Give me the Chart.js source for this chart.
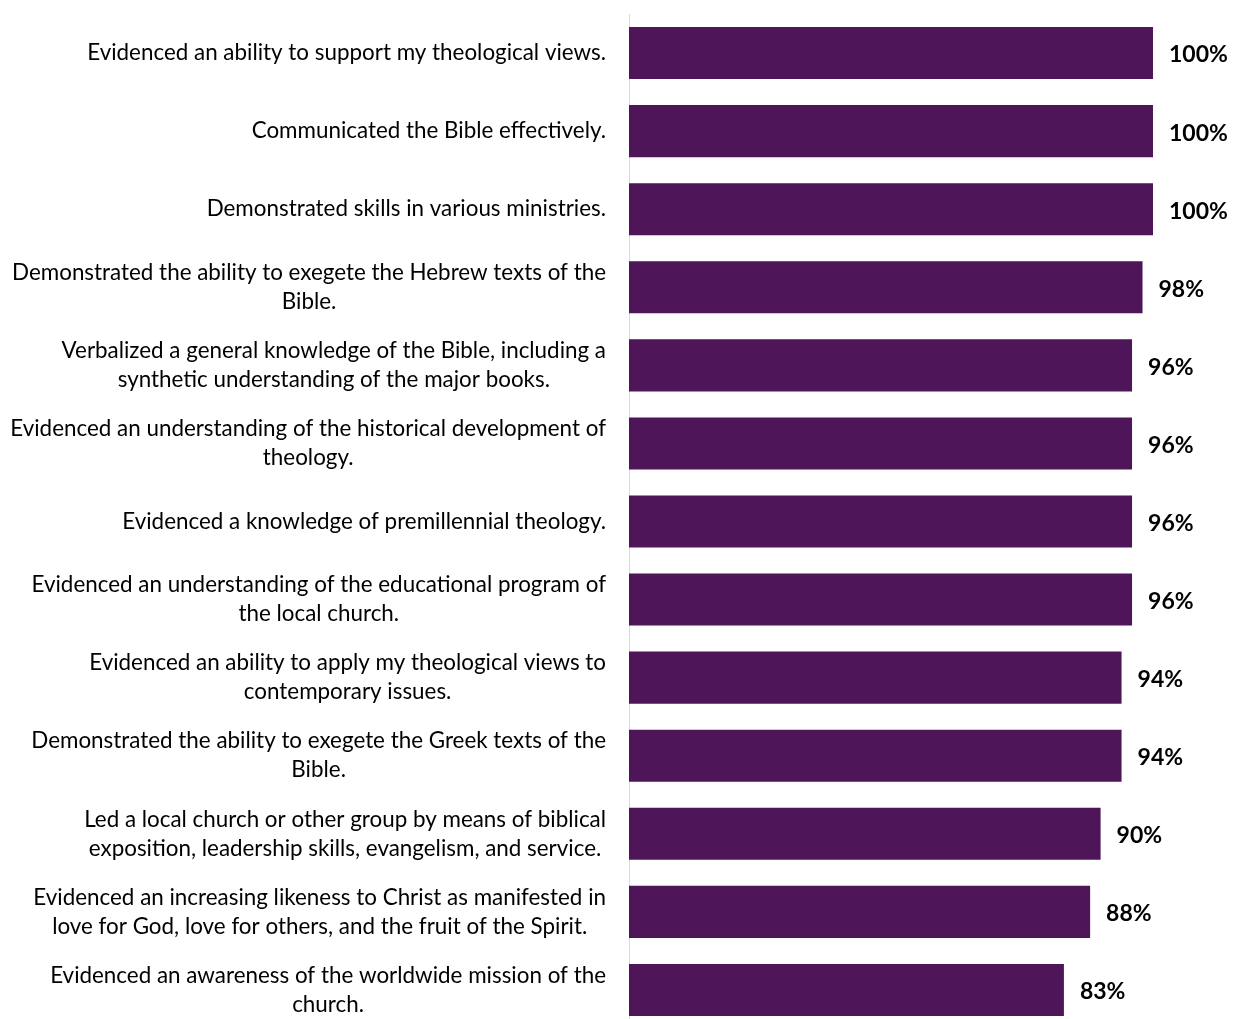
<!DOCTYPE html>
<html>
<head>
<meta charset="utf-8">
<script src="https://cdn.jsdelivr.net/npm/chart.js@4/dist/chart.umd.min.js"></script>
<style>
  html, body { margin: 0; padding: 0; background: #fff; overflow: hidden; }
  #wrap { position: relative; width: 1233px; height: 1029px; }
</style>
</head>
<body>
<div id="wrap"><canvas id="barChart"></canvas></div>
<script>
let labels1 = [
  'Evidenced an ability to support my theological views.',
  'Communicated the Bible effectively.',
  'Demonstrated skills in various ministries.',
  ['Demonstrated the ability to exegete the Hebrew texts of the', 'Bible.'],
  ['Verbalized a general knowledge of the Bible, including a', 'synthetic understanding of the major books.'],
  ['Evidenced an understanding of the historical development of', 'theology.'],
  'Evidenced a knowledge of premillennial theology.',
  ['Evidenced an understanding of the educational program of', 'the local church.'],
  ['Evidenced an ability to apply my theological views to', 'contemporary issues.'],
  ['Demonstrated the ability to exegete the Greek texts of the', 'Bible.'],
  ['Led a local church or other group by means of biblical', 'exposition, leadership skills, evangelism, and service.'],
  ['Evidenced an increasing likeness to Christ as manifested in', 'love for God, love for others, and the fruit of the Spirit.'],
  ['Evidenced an awareness of the worldwide mission of the', 'church.']
];
let data1 = [100, 100, 100, 98, 96, 96, 96, 96, 94, 94, 90, 88, 83];
let barColor = '#4f1559';

const labelFont = '22.4px Lato';
const lineGap = 29;

// category text: each block sits flush right against the axis,
// with its lines centred on one another
const categoryLabels = {
  id: 'categoryLabels',
  afterDraw(chart) {
    const ctx = chart.ctx;
    const yScale = chart.scales.y;
    const right = yScale.right - 23;
    ctx.save();
    ctx.font = labelFont;
    ctx.fillStyle = '#000';
    ctx.textAlign = 'center';
    ctx.textBaseline = 'middle';
    labels1.forEach((lab, i) => {
      const lines = Array.isArray(lab) ? lab : [lab];
      const widest = Math.max(...lines.map(l => ctx.measureText(l).width));
      const cx = right - widest / 2;
      const cy = yScale.getPixelForValue(i);
      const top = cy - (lines.length - 1) * lineGap / 2;
      lines.forEach((l, k) => ctx.fillText(l, cx, top + k * lineGap));
    });
    ctx.restore();
  }
};

// writes the percentage just past the end of each bar
const valueLabels = {
  id: 'valueLabels',
  afterDatasetsDraw(chart) {
    const ctx = chart.ctx;
    const meta = chart.getDatasetMeta(0);
    ctx.save();
    ctx.font = 'bold 23px Lato';
    ctx.fillStyle = '#000';
    ctx.textAlign = 'left';
    ctx.textBaseline = 'middle';
    meta.data.forEach((bar, i) => {
      ctx.fillText(data1[i] + '%', bar.x + 16, bar.y + 2);
    });
    ctx.restore();
  }
};

let ctx1 = document.getElementById('barChart').getContext('2d');

let chart = new Chart(ctx1, {
  type: 'bar',
  data: {
    labels: labels1,
    datasets: [{
      data: data1,
      backgroundColor: barColor,
      borderWidth: 0,
      barPercentage: 0.667,
      categoryPercentage: 1
    }]
  },
  options: {
    indexAxis: 'y',
    responsive: true,
    maintainAspectRatio: false,
    animation: false,
    layout: { padding: { top: 14, right: 80, bottom: 0, left: 0 } },
    plugins: {
      legend: { display: false },
      tooltip: { enabled: false }
    },
    scales: {
      x: {
        display: false,
        min: 0,
        max: 100
      },
      y: {
        afterFit: (scale) => {
          scale.width = 629;
          scale.paddingTop = 0;
          scale.paddingBottom = 0;
        },
        grid: { display: false, drawTicks: false },
        border: { display: true, color: '#d9d9d9', width: 1 },
        ticks: {
          display: false,
          autoSkip: false
        }
      }
    }
  },
  plugins: [categoryLabels, valueLabels]
});
</script>
</body>
</html>
